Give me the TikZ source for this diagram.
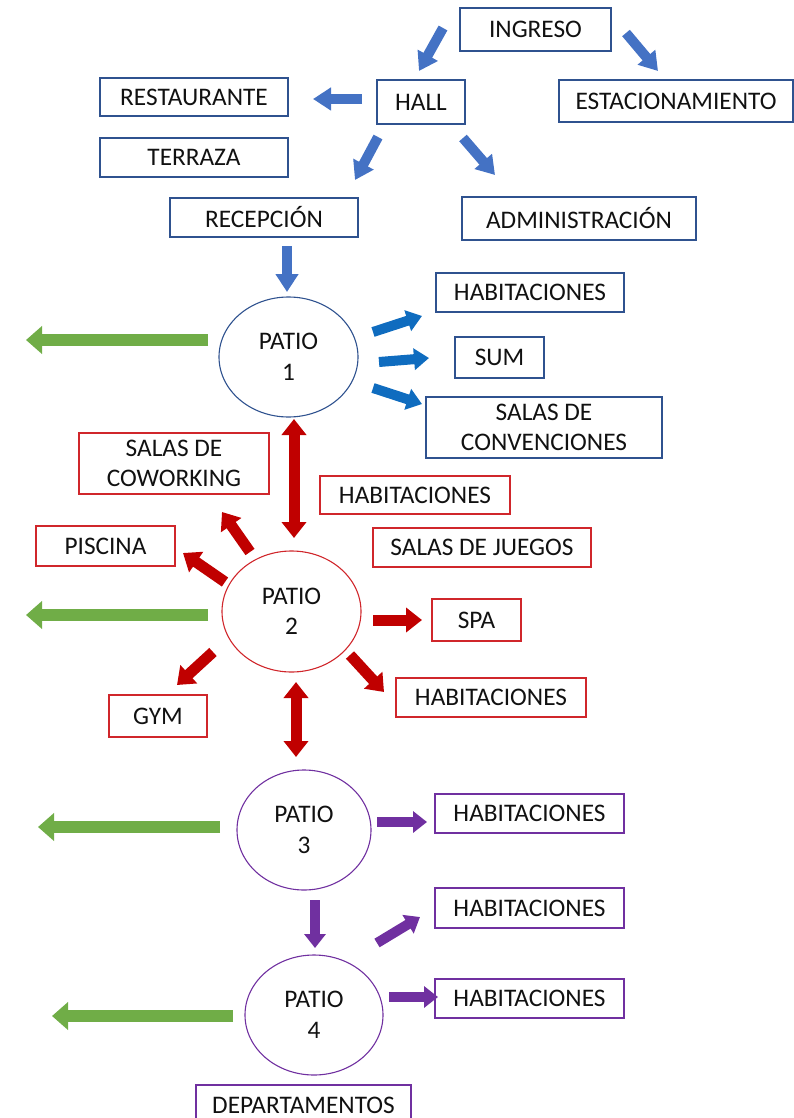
\documentclass[tikz,border=0pt]{standalone}
\usepackage{fontspec}
\setmainfont{Carlito}
\usetikzlibrary{arrows.meta,shapes.geometric}
\definecolor{bbox}{HTML}{2F528F}
\definecolor{rbox}{HTML}{D0262B}
\definecolor{pbox}{HTML}{7030A0}
\definecolor{barr}{HTML}{4472C4}
\definecolor{darr}{HTML}{0F6CBF}
\definecolor{rarr}{HTML}{C00000}
\definecolor{parr}{HTML}{7030A0}
\definecolor{garr}{HTML}{70AD47}
\definecolor{txt}{HTML}{111111}
\tikzset{
  lbl/.style={font=\fontsize{25.3}{30.5}\selectfont, text=txt, align=center, inner sep=0pt},
  boxb/.style={lbl, draw=bbox, line width=1.3pt, rectangle},
  boxr/.style={lbl, draw=rbox, line width=1.3pt, rectangle},
  boxp/.style={lbl, draw=pbox, line width=1.3pt, rectangle},
  patio/.style={lbl, ellipse, line width=1.1pt},
  barrow/.style={draw=barr, line width=10pt, -{Triangle[length=18pt,width=22pt]}},
  darrow/.style={draw=darr, line width=10pt, -{Triangle[length=15pt,width=21pt]}},
  rarrow/.style={draw=rarr, line width=11pt, -{Triangle[length=16pt,width=24pt]}},
  rdarrow/.style={draw=rarr, line width=11pt, {Triangle[length=16pt,width=24pt]}-{Triangle[length=16pt,width=24pt]}},
  parrow/.style={draw=parr, line width=10pt, -{Triangle[length=14pt,width=21pt]}},
  garrow/.style={draw=garr, line width=12pt, -{Triangle[length=16pt,width=27pt]}}
}
\begin{document}
\begin{tikzpicture}[x=1pt,y=-1pt]
\useasboundingbox (0,0) rectangle (794,1118);
% blue boxes
\node[boxb, minimum width=151pt, minimum height=43pt] (ingreso) at (535.5,29.5) {INGRESO};
\node[boxb, minimum width=88pt, minimum height=44pt] (hall) at (421,102) {HALL};
\node[boxb, minimum width=188pt, minimum height=38pt] (rest) at (194,97) {RESTAURANTE};
\node[boxb, minimum width=188pt, minimum height=39pt] (terr) at (194,157.5) {TERRAZA};
\node[boxb, minimum width=234pt, minimum height=42pt] (est) at (676,101) {ESTACIONAMIENTO};
\node[boxb, minimum width=188pt, minimum height=39pt] (recep) at (264,217.5) {RECEPCIÓN};
\node[boxb, minimum width=234pt, minimum height=43pt] (admin) at (579,218.5) {ADMINISTRACIÓN};
\node[boxb, minimum width=188pt, minimum height=39pt] (hab1) at (530,292.5) {HABITACIONES};
\node[boxb, minimum width=89pt, minimum height=41pt] (sum) at (499.5,357.5) {SUM};
\node[boxb, minimum width=236pt, minimum height=61pt] (conv) at (544,427.5) {SALAS DE\\CONVENCIONES};
% red boxes
\node[boxr, minimum width=190pt, minimum height=61pt] (cowork) at (174,463.5) {SALAS DE\\COWORKING};
\node[boxr, minimum width=190pt, minimum height=38pt] (hab2a) at (415,495) {HABITACIONES};
\node[boxr, minimum width=218pt, minimum height=39pt] (juegos) at (482,547.5) {SALAS DE JUEGOS};
\node[boxr, minimum width=139pt, minimum height=40pt] (piscina) at (105.5,546) {PISCINA};
\node[boxr, minimum width=89pt, minimum height=42pt] (spa) at (476.5,620) {SPA};
\node[boxr, minimum width=190pt, minimum height=39pt] (hab2b) at (491,697.5) {HABITACIONES};
\node[boxr, minimum width=98pt, minimum height=42pt] (gym) at (158,716) {GYM};
% purple boxes
\node[boxp, minimum width=189pt, minimum height=39pt] (hab3) at (529.5,813.5) {HABITACIONES};
\node[boxp, minimum width=189pt, minimum height=40pt] (hab4a) at (529.5,908) {HABITACIONES};
\node[boxp, minimum width=189pt, minimum height=39pt] (hab4b) at (529.5,998.5) {HABITACIONES};
\node[boxp, minimum width=215pt, minimum height=40pt] (depto) at (303.5,1105) {DEPARTAMENTOS};
% patios
\node[patio, draw=bbox, minimum width=139pt, minimum height=120pt] (p1) at (288.5,357) {PATIO\\1};
\node[patio, draw=rbox, minimum width=139pt, minimum height=121pt] (p2) at (291.5,611.5) {PATIO\\2};
\node[patio, draw=pbox, minimum width=134pt, minimum height=120pt] (p3) at (304,830) {PATIO\\3};
\node[patio, draw=pbox, minimum width=138pt, minimum height=120pt] (p4) at (314,1015) {PATIO\\4};
% arrow end coordinates
\coordinate (a1s) at (443,28);   \coordinate (a1e) at (419,71);
\coordinate (a2s) at (626,33);   \coordinate (a2e) at (658,71);
\coordinate (a3s) at (362,99);   \coordinate (a3e) at (313,99);
\coordinate (a4s) at (378,137);  \coordinate (a4e) at (355,180);
\coordinate (a5s) at (463,138);  \coordinate (a5e) at (495,175);
\coordinate (a6s) at (287,246);  \coordinate (a6e) at (287,292);
\coordinate (b1s) at (373,332);  \coordinate (b1e) at (422,316);
\coordinate (b2s) at (379,362);  \coordinate (b2e) at (429,358);
\coordinate (b3s) at (373,388);  \coordinate (b3e) at (422,404);
\coordinate (r1s) at (294,419);  \coordinate (r1e) at (294,538);
\coordinate (r2s) at (250,552);  \coordinate (r2e) at (222,512);
\coordinate (r3s) at (225,582);  \coordinate (r3e) at (183,553);
\coordinate (r4s) at (373,620);  \coordinate (r4e) at (422,620);
\coordinate (r5s) at (350,655);  \coordinate (r5e) at (384,692);
\coordinate (r6s) at (213,652);  \coordinate (r6e) at (177,685);
\coordinate (r7s) at (296,682);  \coordinate (r7e) at (296,757);
\coordinate (q1s) at (377,822);  \coordinate (q1e) at (427,822);
\coordinate (q2s) at (315,900);  \coordinate (q2e) at (315,948);
\coordinate (q3s) at (377,943);  \coordinate (q3e) at (420,917);
\coordinate (q4s) at (389,997);  \coordinate (q4e) at (438,997);
\coordinate (g1s) at (208,340);  \coordinate (g1e) at (26,340);
\coordinate (g2s) at (208,615);  \coordinate (g2e) at (26,615);
\coordinate (g3s) at (220,827);  \coordinate (g3e) at (38,827);
\coordinate (g4s) at (233,1016); \coordinate (g4e) at (52,1016);
% blue arrows
\draw[barrow] (a1s) -- (a1e);
\draw[barrow] (a2s) -- (a2e);
\draw[barrow] (a3s) -- (a3e);
\draw[barrow] (a4s) -- (a4e);
\draw[barrow] (a5s) -- (a5e);
\draw[barrow] (a6s) -- (a6e);
\draw[darrow] (b1s) -- (b1e);
\draw[darrow] (b2s) -- (b2e);
\draw[darrow] (b3s) -- (b3e);
% red arrows
\draw[rdarrow] (r1s) -- (r1e);
\draw[rarrow] (r2s) -- (r2e);
\draw[rarrow] (r3s) -- (r3e);
\draw[rarrow] (r4s) -- (r4e);
\draw[rarrow] (r5s) -- (r5e);
\draw[rarrow] (r6s) -- (r6e);
\draw[rdarrow] (r7s) -- (r7e);
% purple arrows
\draw[parrow] (q1s) -- (q1e);
\draw[parrow] (q2s) -- (q2e);
\draw[parrow] (q3s) -- (q3e);
\draw[parrow] (q4s) -- (q4e);
% green arrows
\draw[garrow] (g1s) -- (g1e);
\draw[garrow] (g2s) -- (g2e);
\draw[garrow] (g3s) -- (g3e);
\draw[garrow] (g4s) -- (g4e);
\end{tikzpicture}
\end{document}
